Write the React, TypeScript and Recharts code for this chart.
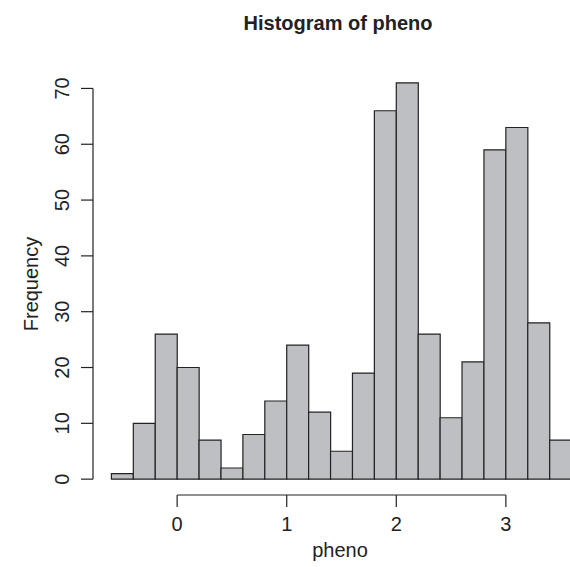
import { BarChart, Bar, XAxis, YAxis, ReferenceLine, Label } from 'recharts';

// histogram bins (width 0.2), midpoints
const binMids = [-0.5, -0.3, -0.1, 0.1, 0.3, 0.5, 0.7, 0.9, 1.1, 1.3, 1.5, 1.7, 1.9, 2.1, 2.3, 2.5, 2.7, 2.9, 3.1, 3.3, 3.5];
const counts = [1, 10, 26, 20, 7, 2, 8, 14, 24, 12, 5, 19, 66, 71, 26, 11, 21, 59, 63, 28, 7];
const xTicks = [0, 1, 2, 3];
const yTicks = [0, 10, 20, 30, 40, 50, 60, 70];

const binWidth = 0.2;
// R extends the axis range by 4% each side
const xDomain: [number, number] = [-0.768, 3.768];
const yDomain: [number, number] = [-2.84, 73.84];

const data = binMids.map((mid, i) => ({ mid, count: counts[i] }));

const FONT = '"Liberation Sans", Arial, Helvetica, sans-serif';
const INK = '#222';

const CHART_W = 600;
const CHART_H = 567;
const MARGIN = { top: 67, right: 10, bottom: 0, left: 0 };
const Y_AXIS_W = 93;
const plotW = CHART_W - MARGIN.left - MARGIN.right - Y_AXIS_W;
// padding so the bin band axis lines up with the numeric axis
const pxPerUnit = plotW / (xDomain[1] - xDomain[0]);
const binPad = (binMids[0] - binWidth / 2 - xDomain[0]) * pxPerUnit;

function YTick(props: any) {
  const { x, y, payload } = props;
  return (
    <text
      x={x}
      y={y}
      transform={`rotate(-90, ${x}, ${y})`}
      textAnchor="middle"
      fontSize={20}
      fontFamily={FONT}
      fill={INK}
    >
      {payload.value}
    </text>
  );
}

export default function App() {
  return (
    <div style={{ position: 'absolute', left: 0, top: 0, width: 570, height: 567, overflow: 'hidden', background: '#fff' }}>
      <svg width={570} height={40} style={{ position: 'absolute', left: 0, top: 0 }}>
        <text x={338} y={30} textAnchor="middle" fontSize={20} fontWeight="bold" fontFamily={FONT} fill={INK}>
          Histogram of pheno
        </text>
      </svg>
      <div style={{ position: 'absolute', left: 0, top: 0 }}>
        <BarChart width={CHART_W} height={CHART_H} data={data} margin={MARGIN} barCategoryGap="0%" barGap={0}>
          <XAxis xAxisId="bins" dataKey="mid" hide height={0} padding={{ left: binPad, right: binPad }} />
          <XAxis
            xAxisId="num"
            dataKey="mid"
            type="number"
            domain={xDomain}
            allowDataOverflow
            ticks={xTicks}
            height={72}
            axisLine={false}
            tickSize={12}
            tickMargin={10}
            tickLine={{ stroke: INK, strokeWidth: 1.2 }}
            tick={{ fill: INK, fontSize: 20, fontFamily: FONT }}
          >
            <Label
              content={() => (
                <text x={340} y={557} textAnchor="middle" fontSize={20} fontFamily={FONT} fill={INK}>
                  pheno
                </text>
              )}
            />
          </XAxis>
          <YAxis
            type="number"
            domain={yDomain}
            allowDataOverflow
            ticks={yTicks}
            width={Y_AXIS_W}
            axisLine={false}
            tickSize={12}
            tickMargin={12}
            tickLine={{ stroke: INK, strokeWidth: 1.2 }}
            tick={<YTick />}
          >
            <Label
              content={() => (
                <text
                  x={37.5}
                  y={284}
                  transform="rotate(-90, 37.5, 284)"
                  textAnchor="middle"
                  fontSize={20}
                  fontFamily={FONT}
                  fill={INK}
                >
                  Frequency
                </text>
              )}
            />
          </YAxis>
          <ReferenceLine
            xAxisId="num"
            segment={[{ x: xTicks[0], y: yDomain[0] }, { x: xTicks[xTicks.length - 1], y: yDomain[0] }]}
            stroke={INK}
            strokeWidth={1.2}
            ifOverflow="visible"
          />
          <ReferenceLine
            xAxisId="num"
            segment={[{ x: xDomain[0], y: yTicks[0] }, { x: xDomain[0], y: yTicks[yTicks.length - 1] }]}
            stroke={INK}
            strokeWidth={1.2}
            ifOverflow="visible"
          />
          <Bar
            xAxisId="bins"
            dataKey="count"
            fill="#BEBFC3"
            stroke={INK}
            strokeWidth={1.2}
            isAnimationActive={false}
          />
        </BarChart>
      </div>
    </div>
  );
}
